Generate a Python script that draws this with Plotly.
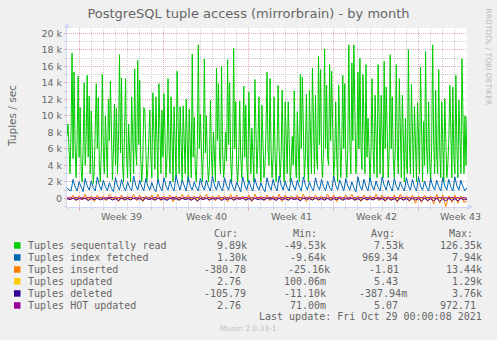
import pandas as pd
import plotly.graph_objects as go

# ---------------- data ----------------
start = "2021-09-26 00:00"

# Tuples sequentally read, thousands of tuples/sec, 2-hour samples
green_k = [
 7.5, 9.0, 6.0, 3.0, 8.0, 17.6, 4.8, 15.3, 6.5, 2.5, 7.0, 14.8, 5.0, 11.0, 3.5, 2.0, 6.0, 14.0, 4.0, 7.5,
 14.9, 5.0, 12.4, 3.0, 10.6, 4.5, 1.8, 3.5, 8.0, 13.9, 6.0, 12.2, 4.0, 2.0, 6.0, 15.0, 5.5, 3.0, 10.0, 6.5,
 2.5, 12.0, 7.0, 14.2, 5.0, 2.2, 6.0, 11.4, 4.0, 10.9, 3.0, 7.0, 17.4, 5.5, 14.6, 4.0, 2.0, 7.5, 14.5, 5.0,
 2.5, 9.0, 4.0, 2.0, 12.3, 6.0, 3.0, 15.7, 6.0, 4.0, 16.7, 6.5, 14.3, 5.0, 2.0, 4.5, 11.0, 10.7, 4.0, 2.0,
 3.5, 7.0, 10.7, 5.0, 2.5, 12.8, 6.0, 3.5, 12.3, 5.0, 2.0, 13.9, 6.5, 3.0, 10.7, 5.0, 12.7, 6.0, 2.5, 5.0,
 14.5, 6.0, 3.0, 12.3, 5.5, 2.0, 11.1, 5.0, 2.5, 15.4, 6.0, 3.0, 11.1, 5.0, 2.0, 11.2, 5.5, 3.0, 12.0, 5.0,
 2.0, 10.8, 5.0, 2.5, 17.5, 5.0, 9.8, 3.5, 2.0, 6.0, 18.6, 6.0, 10.2, 4.0, 2.0, 5.5, 16.9, 5.5, 10.0, 4.5,
 2.0, 4.0, 11.9, 5.0, 2.5, 8.0, 4.0, 2.0, 15.8, 7.0, 13.9, 5.0, 3.0, 16.0, 6.0, 2.5, 4.0, 8.0, 4.5, 16.8,
 6.5, 14.0, 5.0, 2.0, 6.0, 18.2, 6.0, 11.7, 4.0, 2.0, 5.0, 11.8, 5.0, 2.5, 6.0, 13.6, 5.0, 11.3, 4.0, 2.0,
 12.9, 6.0, 3.0, 8.5, 4.0, 2.0, 14.4, 6.0, 3.0, 6.0, 12.3, 5.0, 2.0, 11.3, 5.0, 2.5, 4.0, 8.0, 15.3, 6.0,
 4.0, 14.5, 6.0, 2.5, 5.0, 12.3, 5.0, 2.0, 6.0, 13.7, 6.0, 2.5, 5.0, 13.1, 5.0, 2.0, 11.7, 5.0, 3.0, 11.7,
 5.0, 2.0, 4.0, 7.5, 4.0, 13.0, 5.0, 2.5, 10.5, 4.5, 2.0, 15.0, 6.0, 14.7, 5.5, 2.5, 5.0, 12.6, 5.0, 2.0,
 13.1, 5.5, 3.0, 15.8, 6.0, 3.0, 12.5, 5.0, 3.5, 17.2, 6.5, 15.6, 5.0, 2.5, 6.0, 18.1, 6.0, 13.7, 5.0, 4.0,
 16.2, 7.0, 15.4, 6.0, 2.5, 4.5, 11.7, 5.0, 2.0, 13.7, 5.5, 2.5, 6.0, 14.9, 6.0, 13.9, 5.0, 2.5, 6.0, 18.6,
 7.0, 3.0, 16.4, 7.0, 18.6, 6.5, 3.0, 6.0, 15.3, 6.0, 17.0, 6.5, 3.5, 15.0, 6.0, 3.0, 16.2, 5.0, 9.7, 4.0,
 2.0, 6.0, 14.5, 6.0, 3.0, 12.5, 5.0, 2.5, 16.2, 6.0, 3.0, 12.5, 5.0, 2.5, 16.6, 6.0, 13.5, 5.0, 2.5, 6.0,
 17.4, 6.0, 12.3, 5.0, 2.5, 6.0, 16.2, 6.0, 3.0, 14.5, 5.5, 2.5, 12.5, 5.0, 2.0, 9.7, 4.0, 3.0, 18.0, 6.5,
 3.0, 13.8, 5.0, 2.5, 11.1, 4.5, 2.0, 11.6, 5.0, 3.0, 15.9, 6.0, 2.0, 9.3, 4.0, 17.8, 6.0, 3.0, 11.7, 4.5,
 2.0, 6.0, 18.6, 7.0, 3.0, 13.1, 5.0, 3.0, 15.6, 6.0, 2.5, 11.7, 5.0, 2.0, 12.1, 5.0, 2.5, 4.0, 7.0, 13.7,
 5.0, 2.5, 13.5, 5.0, 3.0, 14.9, 6.0, 2.5, 11.9, 5.0, 3.0, 16.9, 6.0, 3.0, 10.0, 4.0, 9.9,
]

# Tuples index fetched, 4-hour samples (k)
blue_k = [
 1.3, 1.0, 0.9, 2.3, 1.4, 0.9, 2.0, 1.3, 0.8, 2.4, 1.5, 1.0, 2.1, 1.3, 0.9, 2.6, 1.6, 1.0, 2.2, 1.4,
 0.9, 1.9, 1.2, 0.8, 2.5, 1.5, 1.0, 2.3, 1.4, 0.9, 2.0, 1.3, 0.9, 2.7, 1.6, 1.0, 2.2, 1.4, 0.9, 2.4,
 1.5, 1.0, 1.9, 1.2, 0.8, 2.3, 1.4, 0.9, 2.5, 1.5, 1.0, 2.1, 1.3, 0.9, 2.8, 1.7, 1.0, 2.2, 1.4, 0.9,
 2.6, 1.5, 1.0, 2.0, 1.3, 0.9, 2.4, 1.5, 1.0, 2.2, 1.4, 0.9, 2.7, 1.6, 1.0, 2.1, 1.3, 0.9, 2.5, 1.5,
 1.0, 2.3, 1.4, 0.9, 2.0, 1.3, 0.8, 2.6, 1.6, 1.0, 2.2, 1.4, 0.9, 2.4, 1.5, 1.0, 1.9, 1.2, 0.8, 2.5,
 1.5, 1.0, 2.3, 1.4, 0.9, 2.7, 1.6, 1.0, 2.1, 1.3, 0.9, 2.4, 1.5, 1.0, 2.2, 1.4, 0.9, 2.6, 1.6, 1.0,
 2.0, 1.3, 0.9, 2.5, 1.5, 1.0, 2.3, 1.4, 0.9, 2.1, 1.3, 0.9, 2.7, 1.6, 1.0, 2.2, 1.4, 0.9, 2.4, 1.5,
 1.0, 2.0, 1.3, 0.8, 2.6, 1.5, 1.0, 2.3, 1.4, 0.9, 2.5, 1.5, 1.0, 2.1, 1.3, 0.9, 2.6, 1.6, 1.0, 2.2,
 1.4, 0.9, 2.4, 1.5, 1.0, 2.0, 1.3, 0.9, 2.5, 1.5, 1.0, 2.3, 1.4, 0.9, 2.6, 1.5, 1.0, 2.1, 1.3, 0.9,
 2.4, 1.5, 1.0, 2.2, 1.4, 0.9, 2.5, 1.5, 1.0, 2.3, 1.4, 0.9, 2.6, 1.5, 1.0, 2.2, 1.4, 0.9, 1.3,
]

# Tuples inserted, 6-hour samples (k)
orange_k = [
 0.1, -0.2, 0.4, -0.3, 0.3, -0.2, 0.5, -0.3, 0.3, -0.4, 0.4, -0.2, 0.3, -0.3, 0.5, -0.2, 0.3, -0.4, 0.4, -0.3,
 0.3, -0.2, 0.5, -0.3, 0.4, -0.4, 0.3, -0.2, 0.4, -0.3, 0.5, -0.3, 0.3, -0.2, 0.4, -0.4, 0.3, -0.3, 0.5, -0.2,
 0.4, -0.3, 0.3, -0.4, 0.4, -0.2, 0.5, -0.3, 0.3, -0.3, 0.4, -0.2, 0.3, -0.4, 0.5, -0.3, 0.4, -0.2, 0.3, -0.3,
 0.4, -0.4, 0.5, -0.2, 0.3, -0.3, 0.4, -0.3, 0.3, -0.2, 0.5, -0.4, 0.4, -0.3, 0.3, -0.2, 0.4, -0.3, 0.5, -0.4,
 0.3, -0.2, 0.4, -0.3, 0.3, -0.3, 0.5, -0.2, 0.4, -0.4, 0.3, -0.3, 0.4, -0.2, 0.5, -0.3, 0.3, -0.4, 0.4, -0.3,
 0.3, -0.2, 0.5, -0.3, 0.4, -0.4, 0.3, -0.3, 0.4, -0.5, 0.5, -0.3, 0.3, -0.4, 0.4, -0.6, 0.3, -0.5, 0.4, -0.4,
 0.3, -0.7, 0.5, -0.6, 0.4, -1.0, 0.3, -0.5, 0.4, -0.6, 0.3, -0.5, -0.38,
]

# Tuples updated, 12-hour samples (k)
yellow_k = [
 0.004, 0.006, 0.005, 0.007, 0.004, 0.006, 0.005, 0.006, 0.004, 0.007, 0.005, 0.006, 0.004, 0.006, 0.005, 0.007,
 0.005, 0.006, 0.004, 0.006, 0.005, 0.007, 0.004, 0.006, 0.005, 0.006, 0.004, 0.007, 0.005, 0.006, 0.004, 0.006,
 0.005, 0.007, 0.005, 0.006, 0.004, 0.006, 0.005, 0.007, 0.004, 0.006, 0.005, 0.006, 0.004, 0.007, 0.005, 0.006,
 0.004, 0.006, 0.005, 0.007, 0.005, 0.006, 0.004, 0.006, 0.005, 0.007, 0.004, 0.006, 0.005, 0.006, 0.004, 0.007,
 0.005, 0.006, 0.003,
]

# Tuples deleted, 6-hour samples (k)
deleted_k = [
 -0.05, -0.15, 0.0, -0.2, -0.05, -0.1, 0.0, -0.25, -0.05, -0.15, 0.0, -0.2, -0.05, -0.1, 0.0, -0.2, -0.05, -0.25, 0.0, -0.15,
 -0.05, -0.2, 0.0, -0.1, -0.05, -0.25, 0.0, -0.15, -0.05, -0.2, 0.0, -0.15, -0.05, -0.25, 0.0, -0.1, -0.05, -0.2, 0.0, -0.15,
 -0.05, -0.2, 0.0, -0.3, -0.05, -0.15, 0.0, -0.2, -0.05, -0.1, 0.0, -0.25, -0.05, -0.15, 0.0, -0.2, -0.05, -0.1, 0.0, -0.2,
 -0.05, -0.25, 0.0, -0.15, -0.05, -0.2, 0.0, -0.1, -0.05, -0.25, 0.0, -0.15, -0.05, -0.2, 0.0, -0.15, -0.05, -0.3, 0.0, -0.1,
 -0.05, -0.2, 0.0, -0.15, -0.05, -0.2, 0.0, -0.25, -0.05, -0.15, 0.0, -0.2, -0.05, -0.1, 0.0, -0.2, -0.05, -0.25, 0.0, -0.15,
 -0.05, -0.2, 0.0, -0.1, -0.05, -0.25, 0.0, -0.2, -0.05, -0.3, 0.0, -0.2, -0.05, -0.25, 0.0, -0.2, -0.05, -0.3, 0.0, -0.25,
 -0.05, -0.3, 0.0, -0.4, -0.05, -0.3, 0.0, -0.25, -0.05, -0.3, 0.0, -0.2, -0.11,
]

# Tuples HOT updated, 6-hour samples (k)
hot_k = [
 0.02, 0.08, 0.01, 0.10, 0.02, 0.07, 0.01, 0.12, 0.02, 0.08, 0.01, 0.10, 0.02, 0.06, 0.01, 0.11, 0.02, 0.08, 0.01, 0.09,
 0.02, 0.12, 0.01, 0.07, 0.02, 0.10, 0.01, 0.08, 0.02, 0.11, 0.01, 0.09, 0.02, 0.07, 0.01, 0.12, 0.02, 0.08, 0.01, 0.10,
 0.02, 0.09, 0.01, 0.13, 0.02, 0.08, 0.01, 0.10, 0.02, 0.07, 0.01, 0.11, 0.02, 0.09, 0.01, 0.10, 0.02, 0.08, 0.01, 0.12,
 0.02, 0.07, 0.01, 0.10, 0.02, 0.09, 0.01, 0.11, 0.02, 0.08, 0.01, 0.10, 0.02, 0.12, 0.01, 0.08, 0.02, 0.10, 0.01, 0.09,
 0.02, 0.11, 0.01, 0.07, 0.02, 0.10, 0.01, 0.08, 0.02, 0.12, 0.01, 0.09, 0.02, 0.10, 0.01, 0.08, 0.02, 0.11, 0.01, 0.09,
 0.02, 0.10, 0.01, 0.08, 0.02, 0.12, 0.01, 0.09, 0.02, 0.10, 0.01, 0.11, 0.02, 0.08, 0.01, 0.10, 0.02, 0.09, 0.01, 0.12,
 0.02, 0.08, 0.01, 0.10, 0.02, 0.09, 0.01, 0.11, 0.02, 0.08, 0.01, 0.10, 0.003,
]

series_names = ["Tuples sequentally read", "Tuples index fetched", "Tuples inserted",
                "Tuples updated", "Tuples deleted", "Tuples HOT updated"]
series_colors = ["#00CC00", "#0066B3", "#FF8000", "#FFCC00", "#330099", "#990099"]
series_data = [green_k, blue_k, orange_k, yellow_k, deleted_k, hot_k]
series_step = ["2h", "4h", "6h", "12h", "6h", "6h"]

cur_vals = ["9.89k", "1.30k", "-380.78\u00a0", "2.76\u00a0", "-105.79\u00a0", "2.76\u00a0"]
min_vals = ["-49.53k", "-9.64k", "-25.16k", "100.06m", "-11.10k", "71.00m"]
avg_vals = ["7.53k", "969.34\u00a0", "-1.81\u00a0", "5.43\u00a0", "-387.94m", "5.07\u00a0"]
max_vals = ["126.35k", "7.94k", "13.44k", "1.29k", "3.76k", "972.71\u00a0"]

y_tickvals = [0, 2000, 4000, 6000, 8000, 10000, 12000, 14000, 16000, 18000, 20000]
y_ticktext = ["0", "2 k", "4 k", "6 k", "8 k", "10 k", "12 k", "14 k", "16 k", "18 k", "20 k"]
week_label_dates = ["2021-09-30 12:00", "2021-10-07 12:00", "2021-10-14 12:00",
                    "2021-10-21 12:00", "2021-10-28 12:00"]
week_labels = ["Week 39", "Week 40", "Week 41", "Week 42", "Week 43"]
x_start, x_end = "2021-09-26 00:00", "2021-10-29 00:00"

# ---------------- figure ----------------
L, R, T, B = 67, 467, 28, 207
W, H = R - L, B - T
def px(x):
    return (x - L) / W
def py(y):
    return (B - y) / H

FONT = "#666666"
fig = go.Figure()
for name, col, vals, step in zip(series_names, series_colors, series_data, series_step):
    times = pd.date_range(start, periods=len(vals), freq=step)
    fig.add_trace(go.Scatter(x=times, y=[v * 1000 for v in vals], mode="lines", name=name,
                             line=dict(color=col, width=1), showlegend=False, hoverinfo="skip"))

MGRID = "#E0B0B0"
GRID = "#CFCFCF"
AXIS = "#CFD6F8"

fig.update_layout(
    width=497, height=340,
    margin=dict(l=L, r=497 - R, t=T, b=340 - B, pad=0),
    paper_bgcolor="#F0F0F0", plot_bgcolor="#FFFFFF",
    font=dict(family="DejaVu Sans", color=FONT, size=10),
    title=dict(text="PostgreSQL tuple access (mirrorbrain) - by month",
               x=0.5, xanchor="center", y=1 - 13.5 / 340, yanchor="middle",
               font=dict(size=13, color=FONT, family="DejaVu Sans")),
    xaxis=dict(type="date", range=[x_start, x_end], showticklabels=False,
               tickmode="linear", tick0="2021-09-27", dtick=7 * 86400000,
               ticks="outside", ticklen=3, tickcolor=MGRID, tickwidth=1,
               showgrid=True, gridcolor=MGRID, griddash="1px,1px", gridwidth=1,
               showline=True, linecolor=AXIS, linewidth=1, zeroline=False,
               minor=dict(tickmode="linear", tick0="2021-09-26", dtick=86400000,
                          showgrid=True, gridcolor=GRID, griddash="1px,1px",
                          ticks="outside", ticklen=2, tickcolor=GRID)),
    yaxis=dict(range=[-1050, 20640], tickmode="array", tickvals=y_tickvals, ticktext=y_ticktext,
               ticks="outside", ticklen=2, tickcolor=MGRID,
               tickfont=dict(size=9.5, color=FONT, family="DejaVu Sans"),
               showgrid=True, gridcolor=MGRID, griddash="1px,1px", zeroline=False,
               showline=True, linecolor=AXIS, linewidth=1,
               minor=dict(tickmode="linear", tick0=0, dtick=1000, showgrid=True,
                          gridcolor=GRID, griddash="1px,1px",
                          ticks="outside", ticklen=2, tickcolor=GRID)),
)

ann = []
# axis arrows
ann.append(dict(x=0, y=py(T - 5), xref="paper", yref="paper", text="", showarrow=True,
                ax=0, ay=8, arrowhead=2, arrowsize=1, arrowwidth=1, arrowcolor=AXIS))
ann.append(dict(x=px(R + 6), y=0, xref="paper", yref="paper", text="", showarrow=True,
                ax=-8, ay=0, arrowhead=2, arrowsize=1, arrowwidth=1, arrowcolor=AXIS))
# week labels
for d, lab in zip(week_label_dates, week_labels):
    ann.append(dict(x=d, y=py(216), xref="x", yref="paper", text=lab, showarrow=False,
                    xanchor="center", yanchor="middle", font=dict(size=9.5, color=FONT)))
# y axis title
ann.append(dict(x=px(12), y=py(116), xref="paper", yref="paper", text="Tuples / sec",
                textangle=-90, showarrow=False, xanchor="center", yanchor="middle",
                font=dict(size=10.5, color=FONT)))
# watermark
ann.append(dict(x=px(488.5), y=py(57), xref="paper", yref="paper", text="RRDTOOL / TOBI OETIKER",
                textangle=90, showarrow=False, xanchor="center", yanchor="middle",
                font=dict(size=7.5, color="#BBBBBB")))
# legend table
MONO = "DejaVu Sans Mono"
headers = [("Cur:", 212.7), ("Min:", 291.7), ("Avg:", 370), ("Max:", 447.7)]
for h, x in headers:
    ann.append(dict(x=px(x), y=py(233.3), xref="paper", yref="paper", text=h, showarrow=False,
                    xanchor="left", yanchor="middle", borderpad=0,
                    font=dict(family=MONO, size=10, color=FONT)))
row_y = [245.7, 257.7, 269.7, 281.6, 293.7, 305.7]
cur_x = [248.3, 248.3, 253, 248.3, 253, 248.3]
min_x = [327.3, 327.3, 330.7, 327.3, 327.3, 327.3]
avg_x = [405, 404.7, 406, 404.7, 407.7, 404.7]
max_x = [483, 483, 483, 483, 483, 483]
shapes = []
for i, name in enumerate(series_names):
    yy = row_y[i]
    shapes.append(dict(type="rect", xref="paper", yref="paper",
                       x0=px(14), x1=px(20.5), y0=py(yy + 3), y1=py(yy - 3.5),
                       fillcolor=series_colors[i], line=dict(width=0)))
    ann.append(dict(x=px(26.5), y=py(yy), xref="paper", yref="paper", text=name, showarrow=False,
                    xanchor="left", yanchor="middle", borderpad=0,
                    font=dict(family=MONO, size=10, color=FONT)))
    for vals, xs in ((cur_vals, cur_x), (min_vals, min_x), (avg_vals, avg_x), (max_vals, max_x)):
        ann.append(dict(x=px(xs[i]), y=py(yy), xref="paper", yref="paper", text=vals[i],
                        showarrow=False, xanchor="right", yanchor="middle", borderpad=0,
                        font=dict(family=MONO, size=10, color=FONT)))
ann.append(dict(x=px(483), y=py(316.7), xref="paper", yref="paper",
                text="Last update: Fri Oct 29 00:00:08 2021", showarrow=False,
                xanchor="right", yanchor="middle", borderpad=0,
                font=dict(family=MONO, size=10, color=FONT)))
ann.append(dict(x=px(248), y=py(329), xref="paper", yref="paper", text="Munin 2.0.33-1",
                showarrow=False, xanchor="center", yanchor="middle",
                font=dict(size=7.5, color="#C0C0C0")))

fig.update_layout(annotations=ann, shapes=shapes)
fig.write_html("out.html")
